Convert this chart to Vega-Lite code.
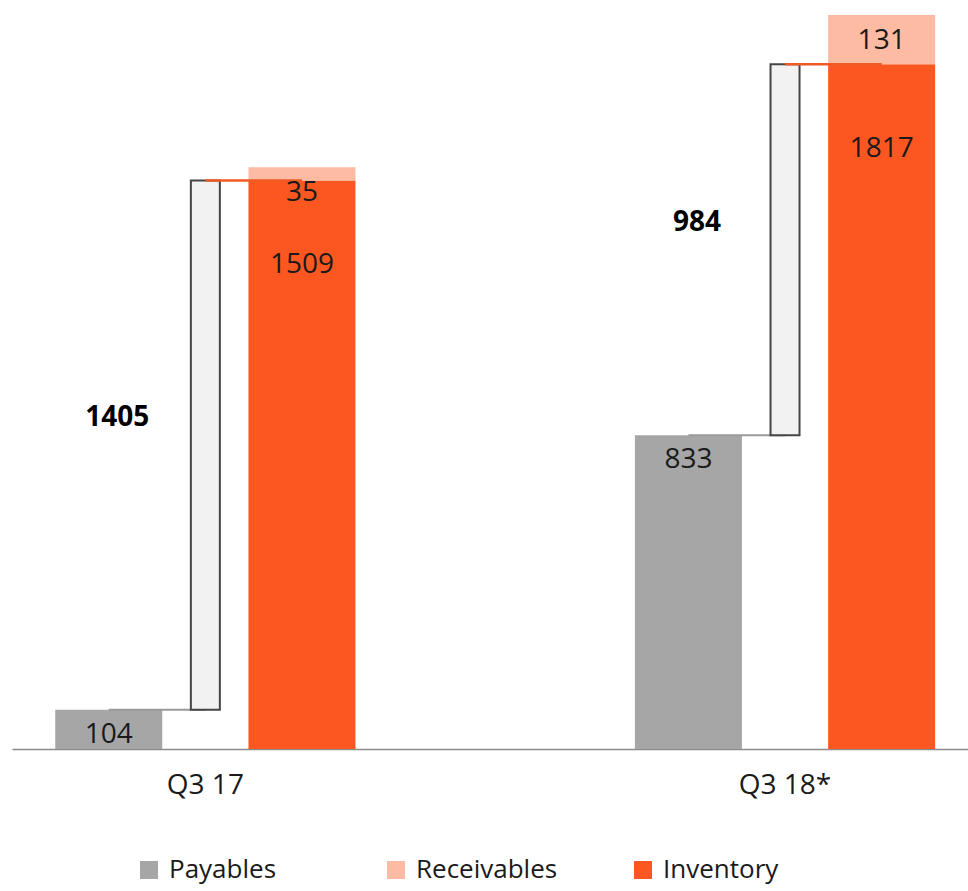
{
  "$schema": "https://vega.github.io/schema/vega-lite/v6.json",
  "width": 956,
  "height": 734,
  "autosize": {"type": "none"},
  "padding": {"left": 12, "top": 15, "right": 0, "bottom": 142},
  "background": "white",
  "config": {"font": "Open Sans", "view": {"stroke": null}},
  "datasets": {
    "components": [
      {"quarter": "Q3 17", "series": "Payables", "slot": "Payables", "value": 104},
      {"quarter": "Q3 17", "series": "Inventory", "slot": "Inventory", "value": 1509},
      {"quarter": "Q3 17", "series": "Receivables", "slot": "Inventory", "value": 35},
      {"quarter": "Q3 18*", "series": "Payables", "slot": "Payables", "value": 833},
      {"quarter": "Q3 18*", "series": "Inventory", "slot": "Inventory", "value": 1817},
      {"quarter": "Q3 18*", "series": "Receivables", "slot": "Inventory", "value": 131}
    ],
    "nwc": [
      {"quarter": "Q3 17", "series": "Net working capital", "slot": "NWC", "value": 1405, "from": 104, "to": 1509},
      {"quarter": "Q3 18*", "series": "Net working capital", "slot": "NWC", "value": 984, "from": 833, "to": 1817}
    ],
    "links": [
      {"quarter": "Q3 17", "link": "payables", "slot": "Payables", "level": 104},
      {"quarter": "Q3 17", "link": "payables", "slot": "NWC", "level": 104},
      {"quarter": "Q3 17", "link": "inventory", "slot": "NWC", "level": 1509},
      {"quarter": "Q3 17", "link": "inventory", "slot": "Inventory", "level": 1509},
      {"quarter": "Q3 18*", "link": "payables", "slot": "Payables", "level": 833},
      {"quarter": "Q3 18*", "link": "payables", "slot": "NWC", "level": 833},
      {"quarter": "Q3 18*", "link": "inventory", "slot": "NWC", "level": 1817},
      {"quarter": "Q3 18*", "link": "inventory", "slot": "Inventory", "level": 1817}
    ]
  },
  "encoding": {
    "x": {
      "field": "quarter",
      "type": "nominal",
      "title": null,
      "scale": {"domain": ["Q3 17", "Q3 18*"], "paddingInner": 0.5, "paddingOuter": 0.0746, "align": 0.56},
      "axis": {
        "labelFontSize": 28,
        "labelFont": "Open Sans",
        "labelColor": "#1a1a1a",
        "labelAngle": 0,
        "ticks": false,
        "domainColor": "#8c8c8c",
        "domainWidth": 1.5,
        "labelPadding": 22,
        "grid": false
      }
    },
    "xOffset": {
      "field": "slot",
      "type": "nominal",
      "scale": {"domain": ["Payables", "NWC", "Inventory"], "paddingInner": 0, "paddingOuter": 0}
    }
  },
  "layer": [
    {
      "data": {"name": "components"},
      "mark": {"type": "bar", "width": 107},
      "encoding": {
        "y": {"field": "value", "type": "quantitative", "stack": "zero", "scale": {"domain": [0, 1948], "nice": false, "zero": true}, "axis": null},
        "order": {"field": "series", "sort": "ascending"},
        "color": {
          "field": "series",
          "type": "nominal",
          "scale": {"domain": ["Payables", "Receivables", "Inventory"], "range": ["#a6a6a6", "#fdbba4", "#fc5721"]},
          "legend": {
            "title": null,
            "orient": "none",
            "legendX": 124,
            "legendY": 842,
            "direction": "horizontal",
            "gridAlign": "all",
            "columnPadding": 72,
            "symbolType": "square",
            "symbolSize": 324,
            "symbolStrokeWidth": 0,
            "labelFontSize": 26,
            "labelFont": "Open Sans",
            "labelColor": "#1a1a1a",
            "labelOffset": 7
          }
        }
      }
    },
    {
      "data": {"name": "links"},
      "transform": [{"filter": "datum.link === 'payables'"}],
      "mark": {"type": "line", "color": "#9a9a9a", "strokeWidth": 2},
      "encoding": {
        "y": {"field": "level", "type": "quantitative", "scale": {"domain": [0, 1948], "nice": false}},
        "detail": {"field": "quarter"}
      }
    },
    {
      "data": {"name": "nwc"},
      "mark": {"type": "bar", "width": 29, "fill": "#f2f2f2", "stroke": "#454545", "strokeWidth": 2},
      "encoding": {
        "y": {"field": "from", "type": "quantitative", "scale": {"domain": [0, 1948], "nice": false}},
        "y2": {"field": "to"}
      }
    },
    {
      "data": {"name": "links"},
      "transform": [{"filter": "datum.link === 'inventory'"}],
      "mark": {"type": "line", "color": "#f05a24", "strokeWidth": 2.5},
      "encoding": {
        "y": {"field": "level", "type": "quantitative", "scale": {"domain": [0, 1948], "nice": false}},
        "detail": {"field": "quarter"}
      }
    },
    {
      "data": {"name": "components"},
      "transform": [{"filter": "datum.series === 'Payables'"}],
      "mark": {"type": "text", "fontSize": 28, "color": "#1a1a1a", "baseline": "middle", "dy": 25},
      "encoding": {
        "y": {"field": "value", "type": "quantitative"},
        "text": {"field": "value", "type": "quantitative"}
      }
    },
    {
      "data": {"name": "components"},
      "transform": [{"filter": "datum.series === 'Inventory'"}],
      "mark": {"type": "text", "fontSize": 28, "color": "#1a1a1a", "baseline": "middle", "dy": 85},
      "encoding": {
        "y": {"field": "value", "type": "quantitative"},
        "text": {"field": "value", "type": "quantitative"}
      }
    },
    {
      "data": {"name": "components"},
      "transform": [{"filter": "datum.slot === 'Inventory'"}],
      "mark": {"type": "text", "fontSize": 28, "color": "#1a1a1a", "baseline": "middle", "dy": 26},
      "encoding": {
        "y": {"field": "value", "type": "quantitative", "stack": "zero"},
        "detail": {"field": "series"},
        "order": {"field": "series", "sort": "ascending"},
        "text": {"condition": {"test": "datum.series === 'Receivables'", "field": "value", "type": "quantitative"}, "value": ""}
      }
    },
    {
      "data": {"name": "nwc"},
      "transform": [
        {"fold": ["from", "to"], "as": ["edge", "level"]},
        {"aggregate": [{"op": "mean", "field": "level", "as": "mid"}], "groupby": ["quarter", "slot", "value"]}
      ],
      "mark": {"type": "text", "fontSize": 28, "fontWeight": "bold", "color": "#000000", "baseline": "middle", "dx": -88, "dy": -27},
      "encoding": {
        "y": {"field": "mid", "type": "quantitative"},
        "text": {"field": "value", "type": "quantitative"}
      }
    }
  ]
}
